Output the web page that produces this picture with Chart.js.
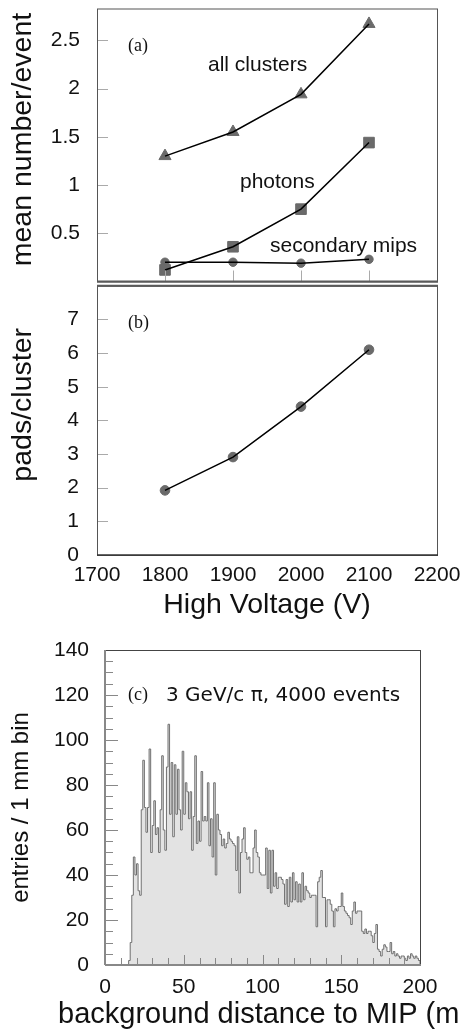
<!DOCTYPE html>
<html>
<head>
<meta charset="utf-8">
<script src="https://cdn.jsdelivr.net/npm/chart.js@4/dist/chart.umd.min.js"></script>
<style>
  body { margin: 0; background: #fff; }
  #wrap { position: relative; width: 461px; height: 1030px; overflow: hidden; }
  canvas { position: absolute; left: 0; }
</style>
</head>
<body>
<div id="wrap">
  <canvas id="chartA" width="461" height="290" style="top:0"></canvas>
  <canvas id="chartB" width="461" height="345" style="top:280px"></canvas>
  <canvas id="chartC" width="461" height="405" style="top:625px"></canvas>
</div>
<script>
// panel (a) and (b) data
const voltage = [1800, 1900, 2000, 2100];
const allClusters = [1.30, 1.55, 1.94, 2.67];
const photons = [0.12, 0.36, 0.75, 1.44];
const secondaryMips = [0.20, 0.20, 0.19, 0.23];
const padsPerCluster = [1.92, 2.91, 4.41, 6.10];

const yTicksA = [0.5, 1, 1.5, 2, 2.5];
const yTicksB = [0, 1, 2, 3, 4, 5, 6, 7];
const xTicksV = [1800, 1900, 2000, 2100];

// panel (c): entries per 1 mm bin, bins 0..199
const distBins = [
  0, 0, 0, 0, 0, 0, 0, 0, 0, 0,
  0, 0, 0, 0, 0, 2, 10, 31, 48, 40,
  45, 33, 31, 69, 91, 70, 59, 70, 96, 50,
  62, 73, 58, 61, 50, 69, 93, 60, 51, 88,
  107, 67, 90, 57, 89, 67, 87, 69, 60, 95,
  67, 81, 77, 65, 77, 51, 66, 93, 54, 64,
  55, 86, 64, 66, 64, 81, 53, 65, 48, 81,
  40, 67, 60, 58, 53, 56, 52, 54, 59, 56,
  55, 54, 53, 42, 57, 32, 50, 56, 61, 50,
  47, 48, 41, 41, 52, 60, 50, 48, 41, 40,
  40, 40, 52, 34, 51, 32, 51, 35, 41, 34,
  39, 39, 38, 36, 27, 38, 26, 39, 28, 41,
  29, 37, 28, 36, 28, 41, 29, 35, 33, 32,
  30, 31, 31, 31, 17, 37, 39, 42, 30, 30,
  17, 29, 29, 27, 24, 17, 25, 24, 26, 26,
  32, 26, 24, 23, 22, 21, 18, 24, 28, 23,
  24, 24, 24, 15, 14, 16, 14, 15, 15, 13,
  10, 14, 18, 7, 6, 4, 7, 9, 8, 6,
  6, 10, 5, 6, 4, 5, 4, 3, 4, 4,
  3, 2, 4, 3, 5, 4, 3, 4, 3, 2
];
const yMajorC = [20, 40, 60, 80, 100, 120];
const yMinorC = [5, 10, 15, 25, 30, 35, 45, 50, 55, 65, 70, 75, 85, 90, 95, 105, 110, 115, 125, 130, 135];
const xMajorC = [50, 100, 150];
const xMinorC = [10, 20, 30, 40, 60, 70, 80, 90, 110, 120, 130, 140, 160, 170, 180, 190];

const sans = "'Liberation Sans', Arial, Helvetica, sans-serif";
const serif = "'Liberation Serif', 'Times New Roman', serif";

const xy = (xs, ys) => xs.map((x, i) => ({x: x, y: ys[i]}));
const plain = v => String(v);

// box, inward ticks and labels
const frame = {
  id: 'frame',
  afterDatasetsDraw(chart, args, o) {
    const {ctx, chartArea: a, scales: {x, y}} = chart;
    const line = (x1, y1, x2, y2) => { ctx.beginPath(); ctx.moveTo(x1, y1); ctx.lineTo(x2, y2); ctx.stroke(); };
    ctx.save();
    ctx.lineWidth = 1;
    ctx.strokeStyle = o.tickColor;
    (o.yTicks || []).forEach(t => {
      const py = Math.round(y.getPixelForValue(t[0])) + 0.5;
      line(a.left, py, a.left + t[1], py);
    });
    (o.xTicks || []).forEach(t => {
      const px = Math.round(x.getPixelForValue(t[0])) + 0.5;
      line(px, a.bottom, px, a.bottom - t[1]);
    });
    ctx.strokeStyle = o.boxColor;
    ctx.strokeRect(a.left + 0.5, a.top + 0.5, a.right - a.left, a.bottom - a.top);
    (o.edges || []).forEach(e => {
      ctx.strokeStyle = e.color;
      ctx.lineWidth = e.width;
      if (e.side === 'bottom') line(a.left, a.bottom, a.right + 1, a.bottom);
      if (e.side === 'top') line(a.left, a.top, a.right + 1, a.top);
      if (e.side === 'left') line(a.left, a.top, a.left, a.bottom);
    });
    ctx.textBaseline = 'middle';
    ctx.fillStyle = '#111';
    (o.texts || []).forEach(t => {
      ctx.save();
      ctx.font = t.font;
      ctx.textAlign = t.rot ? 'center' : 'left';
      ctx.translate(a.left + t.dx, a.top + t.dy);
      if (t.rot) ctx.rotate(-Math.PI / 2);
      ctx.fillText(t.text, 0, 0);
      ctx.restore();
    });
    ctx.restore();
  }
};
Chart.register(frame);

function fixY(w) {
  return s => { s.width = w; s.paddingTop = 0; s.paddingBottom = 0; };
}
function fixX(h) {
  return s => { s.height = h; s.paddingLeft = 0; s.paddingRight = 0; };
}

// ---- panel (a)
new Chart(document.getElementById('chartA'), {
  type: 'line',
  data: {
    datasets: [
      {data: xy(voltage, allClusters), showLine: false, pointStyle: 'triangle', pointRadius: 7,
       backgroundColor: '#6a6a6a', borderColor: '#6a6a6a', borderWidth: 1, order: 2},
      {data: xy(voltage, photons), showLine: false, pointStyle: 'rect', pointRadius: 7.5,
       backgroundColor: '#6a6a6a', borderColor: '#6a6a6a', borderWidth: 1, order: 2},
      {data: xy(voltage, secondaryMips), showLine: false, pointStyle: 'circle', pointRadius: 4.2,
       backgroundColor: '#6a6a6a', borderColor: '#6a6a6a', borderWidth: 1, order: 2},
      {data: xy(voltage, allClusters), pointRadius: 0, borderColor: '#000', borderWidth: 1.5, order: 1},
      {data: xy(voltage, photons), pointRadius: 0, borderColor: '#000', borderWidth: 1.5, order: 1},
      {data: xy(voltage, secondaryMips), pointRadius: 0, borderColor: '#000', borderWidth: 1.5, order: 1}
    ]
  },
  options: {
    responsive: false,
    animation: false,
    layout: {padding: {top: 5, right: 24, bottom: 7, left: 0}},
    plugins: {
      legend: {display: false},
      tooltip: {enabled: false},
      frame: {
        tickColor: '#aaa', boxColor: '#555',
        yTicks: yTicksA.map(v => [v, 11]),
        xTicks: xTicksV.map(v => [v, 11]),
        edges: [{side: 'bottom', color: '#5a5a5a', width: 2}],
        texts: [
          {text: '(a)', dx: 31, dy: 38, font: '18px ' + serif},
          {text: 'all clusters', dx: 111, dy: 57, font: '21px ' + sans},
          {text: 'photons', dx: 143, dy: 174, font: '21px ' + sans},
          {text: 'secondary mips', dx: 173, dy: 238, font: '21px ' + sans},
          // axis title sits a little above the centre in the original
          {text: 'mean number/event', dx: -74, dy: 131, rot: true, font: '28.5px ' + sans}
        ]
      }
    },
    scales: {
      x: {type: 'linear', min: 1700, max: 2200, display: false},
      y: {
        min: 0, max: 2.83,
        afterBuildTicks: s => { s.ticks = yTicksA.map(v => ({value: v})); },
        afterFit: fixY(97),
        grid: {display: false},
        border: {display: false},
        ticks: {padding: 9, color: '#111', font: {family: sans, size: 21}, callback: plain}
      }
    }
  }
});

// ---- panel (b)
new Chart(document.getElementById('chartB'), {
  type: 'line',
  data: {
    datasets: [
      {data: xy(voltage, padsPerCluster), showLine: false, pointStyle: 'circle', pointRadius: 4.8,
       backgroundColor: '#6a6a6a', borderColor: '#6a6a6a', borderWidth: 1, order: 2},
      {data: xy(voltage, padsPerCluster), pointRadius: 0, borderColor: '#000', borderWidth: 1.5, order: 1}
    ]
  },
  options: {
    responsive: false,
    animation: false,
    layout: {padding: {top: 4, right: 24, bottom: 0, left: 0}},
    plugins: {
      legend: {display: false},
      tooltip: {enabled: false},
      frame: {
        tickColor: '#aaa', boxColor: '#555',
        yTicks: yTicksB.slice(1).map(v => [v, 11]),
        edges: [{side: 'top', color: '#5a5a5a', width: 2}, {side: 'bottom', color: '#333', width: 1.5}],
        texts: [
          {text: '(b)', dx: 31, dy: 37, font: '18px ' + serif},
          {text: 'pads/cluster', dx: -74, dy: 119, rot: true, font: '28.5px ' + sans}
        ]
      }
    },
    scales: {
      x: {
        type: 'linear', min: 1700, max: 2200,
        afterFit: fixX(70),
        grid: {display: false},
        border: {display: false},
        ticks: {stepSize: 100, autoSkip: false, maxRotation: 0, padding: 0, color: '#111',
                font: {family: sans, size: 21}, callback: plain},
        title: {display: true, text: 'High Voltage (V)', color: '#111',
                font: {family: sans, size: 28.5}, padding: {top: 0, bottom: 3}}
      },
      y: {
        min: 0, max: 8,
        afterBuildTicks: s => { s.ticks = yTicksB.map(v => ({value: v})); },
        afterFit: fixY(97),
        grid: {display: false},
        border: {display: false},
        ticks: {padding: 10, color: '#111', font: {family: sans, size: 21}, callback: plain}
      }
    }
  }
});

// ---- panel (c)
const histPts = distBins.map((v, i) => ({x: i, y: v}));
histPts.push({x: distBins.length, y: 0});

new Chart(document.getElementById('chartC'), {
  type: 'line',
  data: {
    datasets: [{
      data: histPts,
      stepped: true,
      fill: 'origin',
      backgroundColor: '#e3e3e3',
      borderColor: '#707070',
      borderWidth: 1,
      pointRadius: 0
    }]
  },
  options: {
    responsive: false,
    animation: false,
    layout: {padding: {top: 25, right: 41, bottom: 0, left: 0}},
    plugins: {
      legend: {display: false},
      tooltip: {enabled: false},
      frame: {
        tickColor: '#888', boxColor: '#444',
        yTicks: yMajorC.map(v => [v, 13]).concat(yMinorC.map(v => [v, 8])),
        xTicks: xMajorC.map(v => [v, 10]).concat(xMinorC.map(v => [v, 7])),
        edges: [{side: 'left', color: '#888', width: 2}, {side: 'bottom', color: '#888', width: 2}],
        texts: [
          {text: '(c)', dx: 23, dy: 45, font: '18px ' + serif},
          {text: '3 GeV/c \u03c0, 4000 events', dx: 61, dy: 46, font: '20px "DejaVu Sans", sans-serif'},
          // x title drawn by hand: the axis title would be squeezed to the plot width
          {text: 'background distance to MIP (mm)', dx: -47, dy: 365, font: '29px ' + sans}
        ]
      }
    },
    scales: {
      x: {
        type: 'linear', min: 0, max: 200,
        afterFit: fixX(65),
        grid: {display: false},
        border: {display: false},
        ticks: {stepSize: 50, autoSkip: false, maxRotation: 0, padding: 2, color: '#111',
                font: {family: sans, size: 21}}
      },
      y: {
        min: 0, max: 140,
        afterFit: fixY(105),
        grid: {display: false},
        border: {display: false},
        ticks: {stepSize: 20, padding: 8, color: '#111', font: {family: sans, size: 21}},
        title: {display: true, text: 'entries / 1 mm bin', color: '#111',
                font: {family: sans, size: 24}, padding: {top: 7, bottom: 0}}
      }
    }
  }
});
</script>
</body>
</html>
